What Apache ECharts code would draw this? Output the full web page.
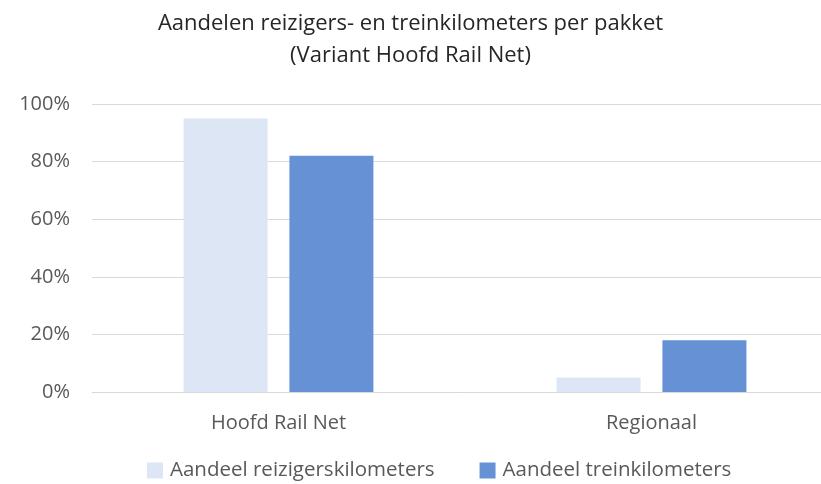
<!DOCTYPE html>
<html>
<head>
<meta charset="utf-8">
<script src="https://cdn.jsdelivr.net/npm/echarts@6/dist/echarts.min.js"></script>
<style>
  html, body { margin: 0; padding: 0; background: #fff; }
  #chart { width: 821px; height: 484px; }
</style>
</head>
<body>
<div id="chart"></div>
<script>
const categories = ['Hoofd Rail Net', 'Regionaal'];
const reizigersKm = [95, 5];
const treinKm = [82, 18];
const yTicks = [0, 20, 40, 60, 80, 100];

const chart = echarts.init(document.getElementById('chart'));
const font = '"Open Sans", sans-serif';

chart.setOption({
    animation: false,
    title: {
        text: 'Aandelen reizigers- en treinkilometers per pakket\n(Variant Hoofd Rail Net)',
        left: 'center',
        top: 3,
        textStyle: { fontFamily: font, fontSize: 22, fontWeight: 'normal', color: '#262626', lineHeight: 32 }
    },
    legend: {
        bottom: -2,
        left: 142,
        itemWidth: 16,
        itemHeight: 16,
        itemGap: 45,
        icon: 'rect',
        textStyle: { fontFamily: font, fontSize: 20.5, color: '#595959', padding: [0, 0, 0, 2] },
        data: ['Aandeel reizigerskilometers', 'Aandeel treinkilometers']
    },
    grid: { left: 92, width: 746, top: 104, bottom: 92, outerBoundsMode: 'none' },
    xAxis: {
        type: 'category',
        data: categories,
        axisTick: { show: false },
        axisLine: { lineStyle: { color: '#d9d9d9' } },
        axisLabel: { fontFamily: font, fontSize: 20, color: '#595959', margin: 21 }
    },
    yAxis: {
        type: 'value',
        min: yTicks[0],
        max: yTicks[yTicks.length - 1],
        interval: 20,
        axisLine: { show: false },
        axisTick: { show: false },
        splitLine: { lineStyle: { color: '#d9d9d9' } },
        axisLabel: { fontFamily: font, fontSize: 20, color: '#595959', margin: 22, formatter: '{value}%' }
    },
    series: [
        {
            name: 'Aandeel reizigerskilometers',
            type: 'bar',
            data: reizigersKm,
            barWidth: 84,
            barGap: '26%',
            itemStyle: { color: '#dde6f5' }
        },
        {
            name: 'Aandeel treinkilometers',
            type: 'bar',
            data: treinKm,
            barWidth: 84,
            barGap: '26%',
            itemStyle: { color: '#6692d5' }
        }
    ]
});
</script>
</body>
</html>
